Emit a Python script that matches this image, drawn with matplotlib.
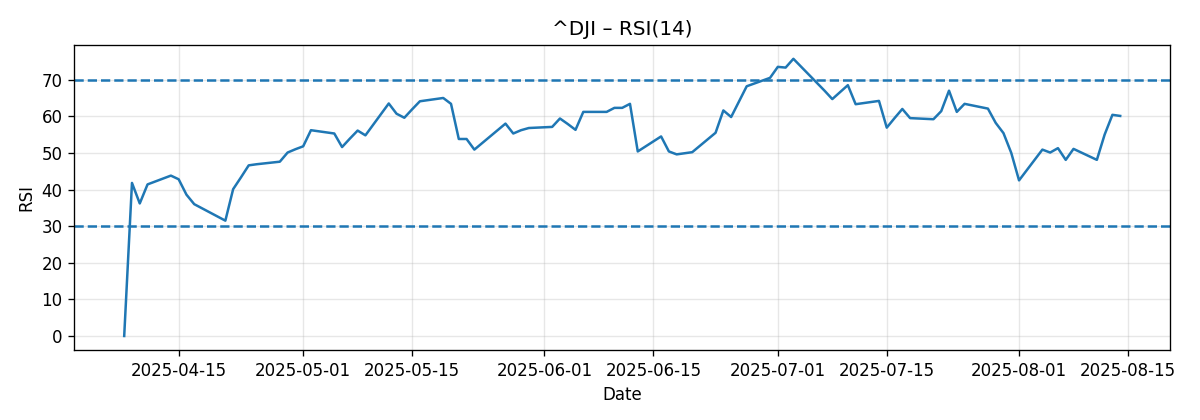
import pandas as pd
import matplotlib
matplotlib.use("Agg")
import matplotlib.pyplot as plt

# RSI(14) values, one per trading day
dates = [
    "2025-04-08", "2025-04-09", "2025-04-10", "2025-04-11", "2025-04-14", "2025-04-15",
    "2025-04-16", "2025-04-17", "2025-04-21", "2025-04-22", "2025-04-23", "2025-04-24",
    "2025-04-25", "2025-04-28", "2025-04-29", "2025-04-30", "2025-05-01", "2025-05-02",
    "2025-05-05", "2025-05-06", "2025-05-07", "2025-05-08", "2025-05-09", "2025-05-12",
    "2025-05-13", "2025-05-14", "2025-05-15", "2025-05-16", "2025-05-19", "2025-05-20",
    "2025-05-21", "2025-05-22", "2025-05-23", "2025-05-27", "2025-05-28", "2025-05-29",
    "2025-05-30", "2025-06-02", "2025-06-03", "2025-06-04", "2025-06-05", "2025-06-06",
    "2025-06-09", "2025-06-10", "2025-06-11", "2025-06-12", "2025-06-13", "2025-06-16",
    "2025-06-17", "2025-06-18", "2025-06-20", "2025-06-23", "2025-06-24", "2025-06-25",
    "2025-06-26", "2025-06-27", "2025-06-30", "2025-07-01", "2025-07-02", "2025-07-03",
    "2025-07-07", "2025-07-08", "2025-07-09", "2025-07-10", "2025-07-11", "2025-07-14",
    "2025-07-15", "2025-07-16", "2025-07-17", "2025-07-18", "2025-07-21", "2025-07-22",
    "2025-07-23", "2025-07-24", "2025-07-25", "2025-07-28", "2025-07-29", "2025-07-30",
    "2025-07-31", "2025-08-01", "2025-08-04", "2025-08-05", "2025-08-06", "2025-08-07",
    "2025-08-08", "2025-08-11", "2025-08-12", "2025-08-13", "2025-08-14",
]
rsi = [
    0.0, 41.8, 36.2, 41.4, 43.8, 42.8,
    38.6, 36.0, 31.5, 40.1, 43.3, 46.6,
    46.9, 47.6, 50.1, 51.0, 51.8, 56.2,
    55.3, 51.6, 53.9, 56.1, 54.8, 63.5,
    60.7, 59.6, 61.9, 64.1, 65.0, 63.4,
    53.8, 53.8, 50.9, 58.0, 55.3, 56.2,
    56.8, 57.1, 59.4, 57.9, 56.3, 61.2,
    61.2, 62.3, 62.3, 63.4, 50.4, 54.5,
    50.4, 49.6, 50.2, 55.5, 61.6, 59.8,
    64.0, 68.2, 70.5, 73.5, 73.3, 75.7,
    67.0, 64.7, 66.6, 68.5, 63.3, 64.2,
    56.9, 59.5, 62.0, 59.5, 59.2, 61.4,
    67.0, 61.2, 63.4, 62.1, 58.2, 55.4,
    50.0, 42.5, 50.9, 50.1, 51.3, 48.1,
    51.1, 48.1, 55.0, 60.4, 60.1,
]
overbought = 70
oversold = 30

x = pd.to_datetime(dates)

fig, ax = plt.subplots(figsize=(10, 3.5), dpi=120)
ax.plot(x, rsi, color="C0")
ax.axhline(overbought, color="C0", linestyle="--")
ax.axhline(oversold, color="C0", linestyle="--")
ax.set_title("^DJI – RSI(14)")
ax.set_xlabel("Date")
ax.set_ylabel("RSI")
ax.grid(True, alpha=0.3)
fig.subplots_adjust(left=0.062, right=0.975, top=0.893, bottom=0.167)
fig.savefig("out.png")
